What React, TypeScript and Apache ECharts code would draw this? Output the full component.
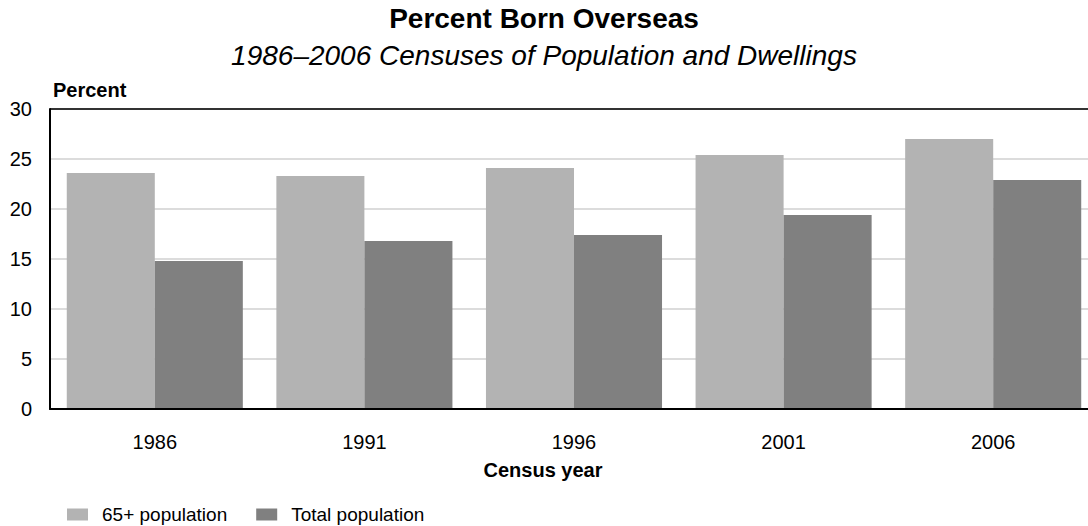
import React, { useEffect, useRef } from "react";
import * as echarts from "echarts";

const categories = ["1986", "1991", "1996", "2001", "2006"];
const series65 = [23.6, 23.3, 24.1, 25.4, 27.0];
const seriesTotal = [14.8, 16.8, 17.4, 19.4, 22.9];
const seriesNames = ["65+ population", "Total population"];
const yTicks = { min: 0, max: 30, interval: 5 };

const FONT = "'Liberation Sans', Arial, sans-serif";

export default function App() {
  const ref = useRef<HTMLDivElement>(null);
  useEffect(() => {
    if (!ref.current) return;
    const chart = echarts.init(ref.current, undefined, { renderer: "svg" });
    const splitColors = ["#dcdcdc", "#dcdcdc", "#dcdcdc", "#dcdcdc", "#dcdcdc", "#dcdcdc", "#333333"];
    chart.setOption({
      animation: false,
      backgroundColor: "#ffffff",
      textStyle: { fontFamily: FONT, color: "#000" },
      title: {
        text: "Percent Born Overseas",
        subtext: "1986–2006 Censuses of Population and Dwellings",
        left: "center",
        top: 4,
        padding: 0,
        itemGap: 9,
        textStyle: { fontFamily: FONT, fontSize: 28, fontWeight: "bold", color: "#000" },
        subtextStyle: { fontFamily: FONT, fontSize: 28, fontStyle: "italic", color: "#000" },
      },
      legend: {
        left: 62,
        top: 500,
        itemWidth: 21,
        itemHeight: 12,
        itemGap: 29,
        icon: "rect",
        textStyle: { fontFamily: FONT, fontSize: 19, color: "#000", padding: [0, 0, 0, 9] },
        data: seriesNames,
      },
      grid: {
        left: 50,
        top: 109,
        bottom: 117,
        width: 1048,
        show: false,
        containLabel: false,
        outerBoundsMode: "none",
      },
      xAxis: {
        type: "category",
        data: categories,
        name: "Census year",
        nameLocation: "middle",
        nameGap: 51,
        nameTextStyle: {
          fontFamily: FONT,
          fontSize: 20,
          fontWeight: "bold",
          color: "#000",
          padding: [0, 62, 0, 0],
        },
        axisLine: { show: true, lineStyle: { color: "#000", width: 2 } },
        axisTick: { show: false },
        axisLabel: { fontFamily: FONT, fontSize: 20, color: "#000", margin: 23 },
        z: 5,
      },
      yAxis: {
        type: "value",
        min: yTicks.min,
        max: yTicks.max,
        interval: yTicks.interval,
        name: "Percent",
        nameLocation: "end",
        nameGap: 9,
        nameTextStyle: {
          fontFamily: FONT,
          fontSize: 20,
          fontWeight: "bold",
          color: "#000",
          align: "left",
          padding: [0, 0, 0, 3],
        },
        axisLine: { show: true, lineStyle: { color: "#000", width: 2 } },
        axisTick: { show: false },
        axisLabel: { fontFamily: FONT, fontSize: 20, color: "#000", margin: 18 },
        splitLine: { show: true, lineStyle: { color: splitColors, width: 2 } },
      },
      series: [
        {
          name: seriesNames[0],
          type: "bar",
          data: series65,
          itemStyle: { color: "#b3b3b3" },
          barGap: "0%",
          barCategoryGap: "16%",
        },
        {
          name: seriesNames[1],
          type: "bar",
          data: seriesTotal,
          itemStyle: { color: "#808080" },
          barGap: "0%",
          barCategoryGap: "16%",
        },
      ],
    });
    return () => chart.dispose();
  }, []);
  return (
    <div
      ref={ref}
      style={{ position: "absolute", left: 0, top: 0, width: 1088, height: 526 }}
    />
  );
}
